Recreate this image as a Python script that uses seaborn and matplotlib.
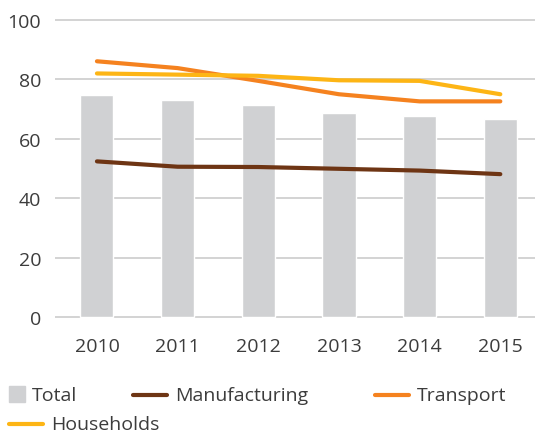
import pandas as pd
import matplotlib.pyplot as plt
import seaborn as sns
from matplotlib.lines import Line2D
from matplotlib.patches import Rectangle

# ── Data ───────────────────────────────────────────────────
years = ['2010', '2011', '2012', '2013', '2014', '2015']
total = [74.8, 73.1, 71.4, 68.8, 67.8, 66.7]
manufacturing = [52.4, 50.6, 50.5, 49.9, 49.3, 48.1]
transport = [86.1, 83.8, 79.5, 75.0, 72.6, 72.6]
households = [82.0, 81.6, 81.2, 79.7, 79.5, 75.0]

series_names = ['Manufacturing', 'Transport', 'Households']
colors = {'Total': '#D0D1D3', 'Manufacturing': '#6E3514',
          'Transport': '#F5821F', 'Households': '#FDB515'}
text_color = '#3C3C3C'

bars = pd.DataFrame({'year': years, 'value': total})
lines = pd.DataFrame({
    'year': years * 3,
    'value': manufacturing + transport + households,
    'series': [s for s in series_names for _ in years],
})

# ── Plot ───────────────────────────────────────────────────
sns.set_style('white')
plt.rcParams['font.family'] = ['Open Sans', 'DejaVu Sans']
fs = 14

W, H = 535, 435
fig = plt.figure(figsize=(W / 100, H / 100), dpi=100)
ax = fig.add_axes([55 / W, 1 - 319.5 / H, (W - 55) / W, 300 / H])

sns.barplot(data=bars, x='year', y='value', color=colors['Total'],
            width=0.41, saturation=1, ax=ax, zorder=2)
sns.lineplot(data=lines, x='year', y='value', hue='series', sort=False,
             palette=colors, linewidth=3, legend=False, ax=ax, zorder=3,
             solid_capstyle='round')

ax.set_ylim(-0.5, 100.5)
ax.set_xlim(-0.52, 5.43)
ax.set_yticks(range(0, 101, 20))
ax.grid(axis='y', color='#D0D0D0', linewidth=1.3, zorder=0)
ax.grid(axis='x', visible=False)
ax.set_axisbelow(True)
sns.despine(ax=ax, left=True, bottom=True)
ax.set_xlabel('')
ax.set_ylabel('')
ax.tick_params(axis='y', length=0, pad=10, labelsize=fs, labelcolor=text_color)
ax.tick_params(axis='x', length=0, pad=13, labelsize=fs, labelcolor=text_color)

# ── Legend ─────────────────────────────────────────────────
def fx(px):
    return px / W

def fy(py):
    return 1 - py / H

fig.add_artist(Rectangle((fx(9), fy(403)), fx(16), 16 / H,
                         color=colors['Total'], transform=fig.transFigure))
fig.text(fx(32), fy(396), 'Total', fontsize=fs, color=text_color, va='center')
legend_lines = [('Manufacturing', 133, 396), ('Transport', 375, 396),
                ('Households', 9, 425)]
for name, x0, y0 in legend_lines:
    fig.add_artist(Line2D([fx(x0), fx(x0 + 34)], [fy(y0), fy(y0)],
                          color=colors[name], linewidth=3,
                          solid_capstyle='round', transform=fig.transFigure))
    fig.text(fx(x0 + 42), fy(y0), name, fontsize=fs, color=text_color,
             va='center')

fig.savefig('out.png', dpi=100)
